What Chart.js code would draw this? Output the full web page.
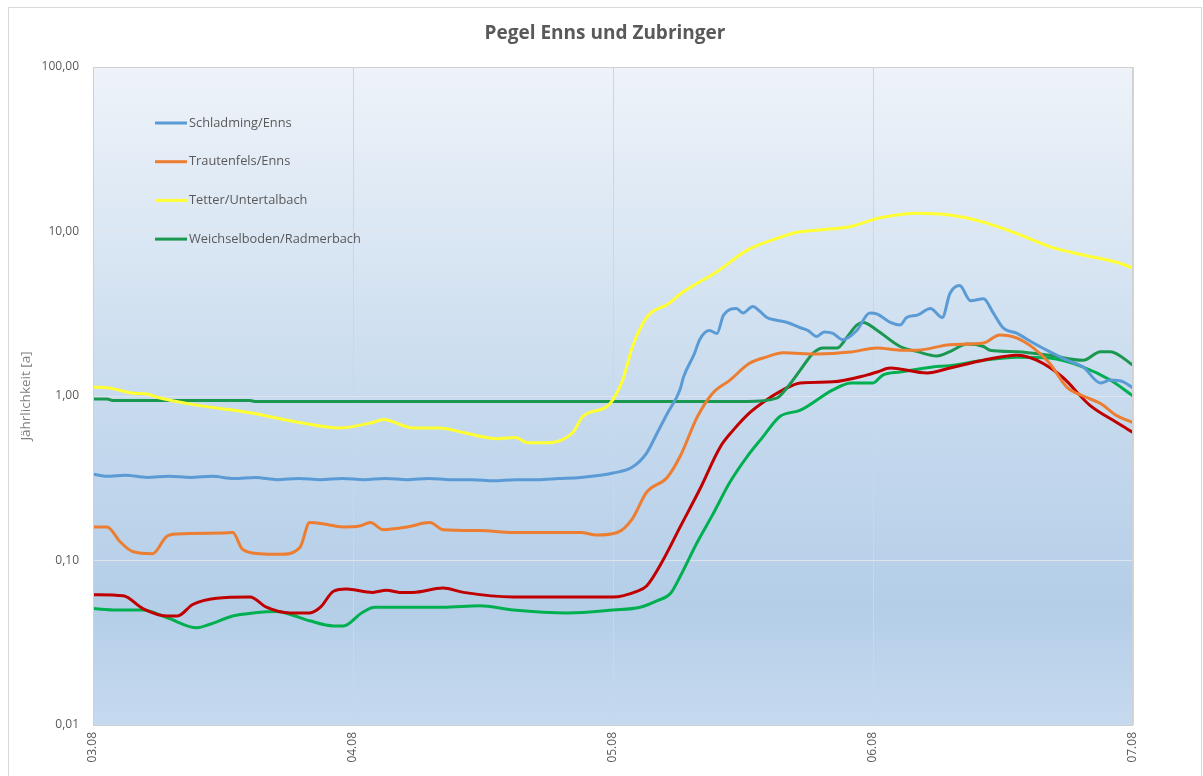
<!DOCTYPE html>
<html>
<head>
<meta charset="utf-8">
<script src="https://cdn.jsdelivr.net/npm/chart.js@4.4.1/dist/chart.umd.min.js"></script>
<style>
  html, body { margin: 0; padding: 0; background: #fff; }
  #wrap { width: 1203px; height: 776px; position: relative; }
</style>
</head>
<body>
<div id="wrap"><canvas id="pegel"></canvas></div>
<script>
  // x axis in hours since 03.08 00:00
  var dayLabels = ['03.08', '04.08', '05.08', '06.08', '07.08'];
  var yTicks = [0.01, 0.1, 1, 10, 100];
  var seriesNames = ['Schladming/Enns', 'Trautenfels/Enns', 'Tetter/Untertalbach', 'Weichselboden/Radmerbach'];

  var schladmingT = [0, 1.3, 3, 5, 7, 9, 11, 13, 15, 17, 19, 21, 23, 25, 27, 29, 31, 33, 35, 37, 39, 41, 43, 45, 46.8, 48, 49.8, 51.1, 52.1, 53, 54.2, 54.5, 55.5, 56, 56.9, 57.6, 58.2, 59.4, 60, 60.9, 61.5, 62.2, 63, 64.1, 65.3, 66, 66.8, 67.5, 68.3, 69.2, 70.5, 71.7, 72.4, 73.6, 74.5, 75.1, 76.1, 77.3, 78.4, 79.1, 80, 81, 82.2, 83.1, 84, 85.3, 86.8, 88.3, 89.9, 91.4, 93, 93.9, 95.1, 96];
  var schladmingV = [0.335, 0.325, 0.33, 0.32, 0.325, 0.32, 0.325, 0.315, 0.32, 0.31, 0.315, 0.31, 0.315, 0.31, 0.315, 0.31, 0.315, 0.31, 0.31, 0.305, 0.31, 0.31, 0.315, 0.32, 0.33, 0.34, 0.37, 0.45, 0.6, 0.78, 1.1, 1.3, 1.8, 2.2, 2.5, 2.4, 3.1, 3.4, 3.2, 3.5, 3.3, 3.0, 2.9, 2.8, 2.6, 2.5, 2.3, 2.45, 2.4, 2.2, 2.5, 3.2, 3.15, 2.8, 2.7, 3.0, 3.1, 3.4, 3.0, 4.2, 4.7, 3.8, 3.9, 3.2, 2.6, 2.4, 2.1, 1.86, 1.65, 1.5, 1.2, 1.25, 1.22, 1.12];

  var trautenfelsT = [0, 1.3, 2.5, 3.7, 5.5, 6.8, 7.8, 12, 12.9, 13.8, 15.4, 17.3, 19.1, 20, 21, 23.1, 24.6, 25.6, 26.8, 29, 31.1, 32.3, 35.7, 38.8, 45, 46.5, 48.4, 49.8, 51.1, 53, 54.2, 55.8, 57.2, 58.8, 60.6, 62.2, 63.7, 66.8, 69.9, 72.4, 74.5, 76.1, 79.1, 82.2, 83.7, 85.3, 86.8, 88.3, 89.9, 91.4, 93, 94.5, 96];
  var trautenfelsV = [0.16, 0.16, 0.13, 0.113, 0.11, 0.14, 0.145, 0.147, 0.148, 0.117, 0.11, 0.109, 0.12, 0.17, 0.168, 0.16, 0.162, 0.17, 0.154, 0.16, 0.17, 0.154, 0.152, 0.148, 0.148, 0.143, 0.148, 0.18, 0.26, 0.32, 0.43, 0.75, 1.04, 1.25, 1.58, 1.73, 1.83, 1.8, 1.85, 1.96, 1.9, 1.9, 2.05, 2.1, 2.35, 2.25, 1.96, 1.58, 1.13, 1.0, 0.9, 0.76, 0.69];

  var tetterT = [0, 1.5, 3.7, 5, 6, 9.6, 14.5, 19.1, 22.8, 25.8, 26.8, 29.5, 32, 34.2, 37.3, 39, 40.1, 41.9, 44.3, 45.2, 47.4, 48, 48.9, 49.8, 50.8, 51.5, 53, 54.5, 57.6, 60.4, 63.4, 65, 67.6, 69.9, 72, 72.9, 76.1, 79.1, 82.2, 85.3, 88.3, 91.4, 94.5, 96];
  var tetterV = [1.13, 1.12, 1.04, 1.03, 0.98, 0.88, 0.79, 0.69, 0.64, 0.69, 0.72, 0.64, 0.64, 0.6, 0.55, 0.56, 0.52, 0.52, 0.6, 0.75, 0.86, 0.95, 1.25, 2.0, 2.8, 3.2, 3.6, 4.3, 5.7, 7.7, 9.2, 9.9, 10.3, 10.7, 11.8, 12.2, 12.9, 12.6, 11.4, 9.7, 8.1, 7.2, 6.5, 6.0];

  var weichselT = [0, 1.3, 1.8, 14.5, 15, 60.4, 63.1, 64.1, 65.3, 66.5, 67.4, 68.7, 69.6, 70.5, 71.1, 72.4, 74.5, 76.1, 77.9, 79.1, 80.7, 82.2, 82.8, 85.3, 88.3, 91.4, 93, 93.9, 96];
  var weichselV = [0.96, 0.96, 0.94, 0.94, 0.925, 0.925, 0.97, 1.13, 1.44, 1.83, 1.96, 1.96, 2.28, 2.7, 2.8, 2.5, 2.0, 1.86, 1.75, 1.86, 2.07, 2.0, 1.9, 1.86, 1.77, 1.65, 1.86, 1.86, 1.54];

  var redT = [0, 2.8, 4.6, 6.8, 7.8, 9.2, 11.4, 14.5, 16, 18.2, 20, 21, 22.2, 23.4, 25.8, 27.1, 28.3, 29.5, 32.3, 34.2, 38.8, 45, 48, 50.2, 51.1, 52.6, 54.2, 56, 57.9, 59.1, 60.6, 62.2, 63.7, 65.3, 68.3, 71.4, 72.4, 73.6, 77, 79.1, 82.2, 85.3, 87.1, 89.5, 92, 94.5, 96];
  var redV = [0.062, 0.061, 0.051, 0.046, 0.046, 0.054, 0.059, 0.06, 0.052, 0.048, 0.048, 0.052, 0.065, 0.067, 0.064, 0.066, 0.064, 0.064, 0.068, 0.064, 0.06, 0.06, 0.06, 0.065, 0.07, 0.1, 0.16, 0.27, 0.49, 0.62, 0.79, 0.95, 1.09, 1.2, 1.22, 1.34, 1.4, 1.48, 1.38, 1.48, 1.65, 1.77, 1.65, 1.3, 0.88, 0.69, 0.6];

  var greenT = [0, 2.2, 4.6, 6.8, 9.6, 10.8, 12.9, 14.8, 17, 18.2, 20, 22.2, 23.1, 24.8, 26, 28.3, 32.3, 35.7, 38.8, 43.8, 48, 50.5, 52.1, 53.3, 54.2, 55.8, 57.2, 58.8, 60.4, 61.8, 63.4, 65.3, 68.3, 70, 72, 72.9, 74.5, 77.5, 79.1, 82.2, 85.3, 88.3, 91.4, 93.9, 96];
  var greenV = [0.051, 0.05, 0.05, 0.045, 0.039, 0.041, 0.046, 0.048, 0.049, 0.047, 0.043, 0.04, 0.04, 0.048, 0.052, 0.052, 0.052, 0.053, 0.05, 0.048, 0.05, 0.052, 0.057, 0.063, 0.08, 0.13, 0.19, 0.3, 0.43, 0.56, 0.75, 0.82, 1.09, 1.2, 1.2, 1.34, 1.4, 1.5, 1.53, 1.65, 1.72, 1.7, 1.5, 1.25, 1.0];

  function pts(t, v) {
    return t.map(function (h, i) { return { x: h, y: v[i] }; });
  }

  function line(label, t, v, color) {
    return {
      label: label,
      data: pts(t, v),
      borderColor: color,
      borderWidth: 3,
      pointRadius: 0,
      cubicInterpolationMode: 'monotone',
      fill: false
    };
  }

  var colors = ['#5b9bd5', '#ed7d31', '#ffff33', '#1a9850', '#c00000', '#00b050'];

  var decor = {
    id: 'decor',
    beforeDraw: function (chart) {
      var ctx = chart.ctx, a = chart.chartArea;
      var g = ctx.createLinearGradient(0, a.top, 0, a.bottom);
      g.addColorStop(0, '#eef3f9');
      g.addColorStop(0.5, '#c8dbee');
      g.addColorStop(0.82, '#b4cee8');
      g.addColorStop(1, '#c6daef');
      ctx.save();
      ctx.fillStyle = g;
      ctx.fillRect(a.left, a.top, a.right - a.left, a.bottom - a.top);
      ctx.restore();
    },
    afterDraw: function (chart) {
      var ctx = chart.ctx, a = chart.chartArea;
      ctx.save();
      // plot frame
      ctx.strokeStyle = '#d0d0d0';
      ctx.lineWidth = 1;
      ctx.strokeRect(a.left + 0.5, a.top + 0.5, a.right - a.left - 1, a.bottom - a.top);
      // outer frame
      ctx.strokeStyle = '#d9d9d9';
      ctx.strokeRect(8.5, 7.5, 1193, 780);
      // title
      ctx.fillStyle = '#595959';
      ctx.font = 'bold 19px "Open Sans"';
      ctx.textAlign = 'center';
      ctx.textBaseline = 'middle';
      ctx.fillText('Pegel Enns und Zubringer', 605, 34);
      // y title
      ctx.translate(26, 396);
      ctx.rotate(-Math.PI / 2);
      ctx.font = '13.5px "Open Sans"';
      ctx.fillStyle = '#7f7f7f';
      ctx.fillText('Jährlichkeit [a]', 0, 0);
      ctx.restore();
      // legend inside plot
      ctx.save();
      ctx.font = '12.8px "Open Sans"';
      ctx.textBaseline = 'middle';
      ctx.textAlign = 'left';
      seriesNames.forEach(function (name, i) {
        var y = 123 + i * 38.7;
        ctx.strokeStyle = colors[i];
        ctx.lineWidth = 3;
        ctx.beginPath();
        ctx.moveTo(155, y);
        ctx.lineTo(187, y);
        ctx.stroke();
        ctx.fillStyle = '#595959';
        ctx.fillText(name, 189, y);
      });
      ctx.restore();
    }
  };

  var ctx = document.getElementById('pegel').getContext('2d');
  window.pegelChart = new Chart(ctx, {
    type: 'line',
    data: {
      datasets: [
        line(seriesNames[0], schladmingT, schladmingV, colors[0]),
        line(seriesNames[1], trautenfelsT, trautenfelsV, colors[1]),
        line(seriesNames[2], tetterT, tetterV, colors[2]),
        line(seriesNames[3], weichselT, weichselV, colors[3]),
        line('', redT, redV, colors[4]),
        line('', greenT, greenV, colors[5])
      ]
    },
    options: {
      responsive: true,
      maintainAspectRatio: false,
      animation: false,
      layout: { padding: { top: 67, right: 70, left: 0, bottom: 0 } },
      plugins: {
        legend: { display: false },
        title: { display: false },
        tooltip: { enabled: false }
      },
      scales: {
        x: {
          type: 'linear',
          min: 0,
          max: 96,
          afterFit: function (s) { s.height = 51; },
          afterBuildTicks: function (s) {
            s.ticks = [0, 24, 48, 72, 96].map(function (v) { return { value: v }; });
          },
          ticks: {
            minRotation: 90,
            maxRotation: 90,
            padding: 7,
            color: '#595959',
            font: { family: 'Open Sans', size: 12 },
            callback: function (v) { return dayLabels[v / 24]; }
          },
          grid: { color: '#d0d6dd', drawTicks: false },
          border: { display: false }
        },
        y: {
          type: 'logarithmic',
          min: 0.01,
          max: 100,
          afterFit: function (s) { s.width = 93; },
          afterBuildTicks: function (s) {
            s.ticks = yTicks.map(function (v) { return { value: v }; });
          },
          ticks: {
            padding: 14,
            color: '#595959',
            font: { family: 'Open Sans', size: 12 },
            callback: function (v) { return Number(v).toFixed(2).replace('.', ','); }
          },
          grid: { color: 'rgba(225,230,236,0.9)', drawTicks: false },
          border: { display: false }
        }
      }
    },
    plugins: [decor]
  });
</script>
</body>
</html>
